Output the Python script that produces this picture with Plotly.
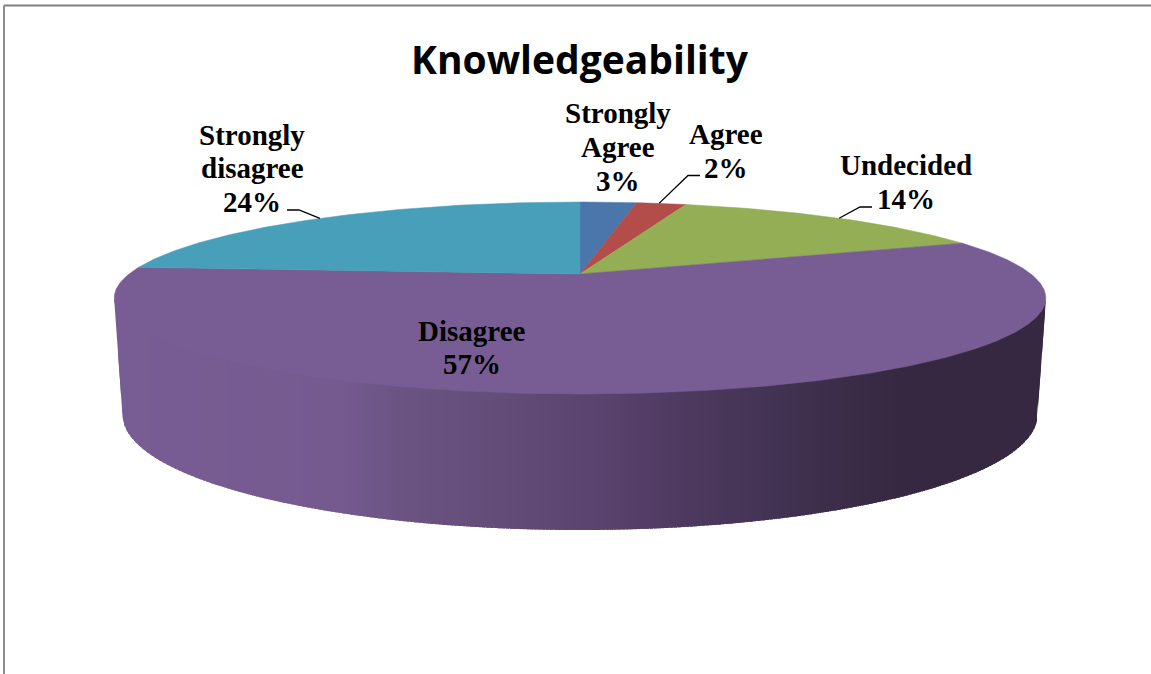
import numpy as np
import plotly.graph_objects as go

# Data
categories = ["Strongly Agree", "Agree", "Undecided", "Disagree", "Strongly disagree"]
shares = [2.5, 2.2, 14.2, 57.3, 23.8]
percent_labels = ["3%", "2%", "14%", "57%", "24%"]
slice_colors = ["#4A76AC", "#B24D4A", "#93AE55", "#785D94", "#479FB9"]

# Text placement (pixels): one entry per line of each label
label_lines = [["Strongly", "Agree", "3%"], ["Agree", "2%"], ["Undecided", "14%"], ["Disagree", "57%"], ["Strongly", "disagree", "24%"]]
label_x = [618, 726, 906, 472, 252]
label_line_y = [[113, 147, 181], [134, 168], [165, 199], [331, 364], [135, 168, 202]]
# Leader lines run from a point near the label to the rim of its slice
leader_start = {1: (700, 175.5), 2: (872, 207), 4: (287, 210)}
leader_knee = {1: (688, 175.5), 2: (860, 207), 4: (299, 210)}
leader_share = {1: 3.5, 2: 11.9, 4: 88.05}

W, H = 1151, 674
CX, AY = 580.0, 274.0
A, B, C = 90.0, 0.25, 451.0


def top(t):
    x, y = np.sin(t), np.cos(t)
    d = 1 + B * y
    return CX + C * x / d, AY - A * y / d


side_stops_x = [114, 340, 400, 500, 600, 680, 780, 900, 1046]
side_stops_c = [(120, 93, 148), (117, 90, 144), (107, 84, 130), (99, 76, 120), (90, 67, 110),
                (78, 58, 96), (66, 50, 82), (53, 40, 64), (53, 40, 64)]


def side_color(x):
    r = np.interp(x, side_stops_x, [c[0] for c in side_stops_c])
    g = np.interp(x, side_stops_x, [c[1] for c in side_stops_c])
    b = np.interp(x, side_stops_x, [c[2] for c in side_stops_c])
    return f"rgb({r:.0f},{g:.0f},{b:.0f})"


fig = go.Figure()


def poly(xs, ys, color, lw=0.5):
    fig.add_trace(go.Scatter(x=xs, y=ys, mode="lines", fill="toself", fillcolor=color,
                             line=dict(color=color, width=lw), hoverinfo="skip", showlegend=False))


# Side wall of the disc: vertical strips, each overlapped by the next
TOPY, TOPRX, TOPRY = 298.0, 466.0, 96.0
BOTY, BOTRX, BOTRY = 415.0, 457.5, 115.0


def upper(x):
    u = np.clip((x - CX) / TOPRX, -1, 1)
    return TOPY + TOPRY * np.sqrt(1 - u * u)


def lower(x):
    x = np.asarray(x, dtype=float)
    u = np.clip((x - CX) / BOTRX, -1, 1)
    y = BOTY + BOTRY * np.sqrt(1 - u * u)
    dist = np.abs(x - CX)
    wall = TOPY + (BOTY - TOPY) * (TOPRX - dist) / (TOPRX - BOTRX)
    return np.where(dist > BOTRX, wall, y)


STEP = 4
for x0 in range(114, 1046, STEP):
    x1 = min(x0 + STEP + 3, 1046)
    xs = np.linspace(x0, x1, 4)
    poly(list(xs) + list(xs[::-1]) + [xs[0]],
         list(upper(xs) - 1) + list(lower(xs)[::-1]) + [upper(xs[0]) - 1],
         side_color(x0 + STEP / 2), lw=0)

# Top face
edges = np.concatenate([[0], np.cumsum(shares)]) / sum(shares) * 2 * np.pi
for i, name in enumerate(categories):
    t = np.linspace(edges[i], edges[i + 1], max(12, int(shares[i] * 6)))
    xs, ys = top(t)
    poly([CX] + list(xs) + [CX], [AY] + list(ys) + [AY], slice_colors[i])

# Leader lines
for i, s in leader_share.items():
    rx, ry = top(np.array([s / 100 * 2 * np.pi]))
    sx, sy = leader_start[i]
    kx, ky = leader_knee[i]
    fig.add_trace(go.Scatter(x=[sx, kx, rx[0]], y=[sy, ky, ry[0]], mode="lines",
                             line=dict(color="black", width=1.3), hoverinfo="skip", showlegend=False))

annotations = [dict(x=580, y=58, text="<b>Knowledgeability</b>", showarrow=False, xref="x", yref="y",
                    font=dict(family="Open Sans", size=39, color="black"))]
for x, ys, lines in zip(label_x, label_line_y, label_lines):
    for y, txt in zip(ys, lines):
        annotations.append(dict(x=x, y=y, text=f"<b>{txt}</b>", showarrow=False, xref="x", yref="y", align="center",
                                font=dict(family="Liberation Serif", size=29, color="black")))

frame = dict(type="line", xref="x", yref="y", line=dict(color="#808080", width=1.8))
fig.update_layout(
    width=W, height=H, autosize=False, margin=dict(l=0, r=0, t=0, b=0),
    paper_bgcolor="white", plot_bgcolor="white", showlegend=False,
    xaxis=dict(range=[0, W], visible=False, fixedrange=True),
    yaxis=dict(range=[H, 0], visible=False, fixedrange=True),
    annotations=annotations,
    shapes=[dict(frame, x0=4, y0=5.5, x1=4, y1=H), dict(frame, x0=4, y0=5.5, x1=W, y1=5.5)],
)
fig.write_html("out.html", config=dict(displayModeBar=False),
               post_script="document.body.style.margin='0';document.body.style.overflow='hidden';")
